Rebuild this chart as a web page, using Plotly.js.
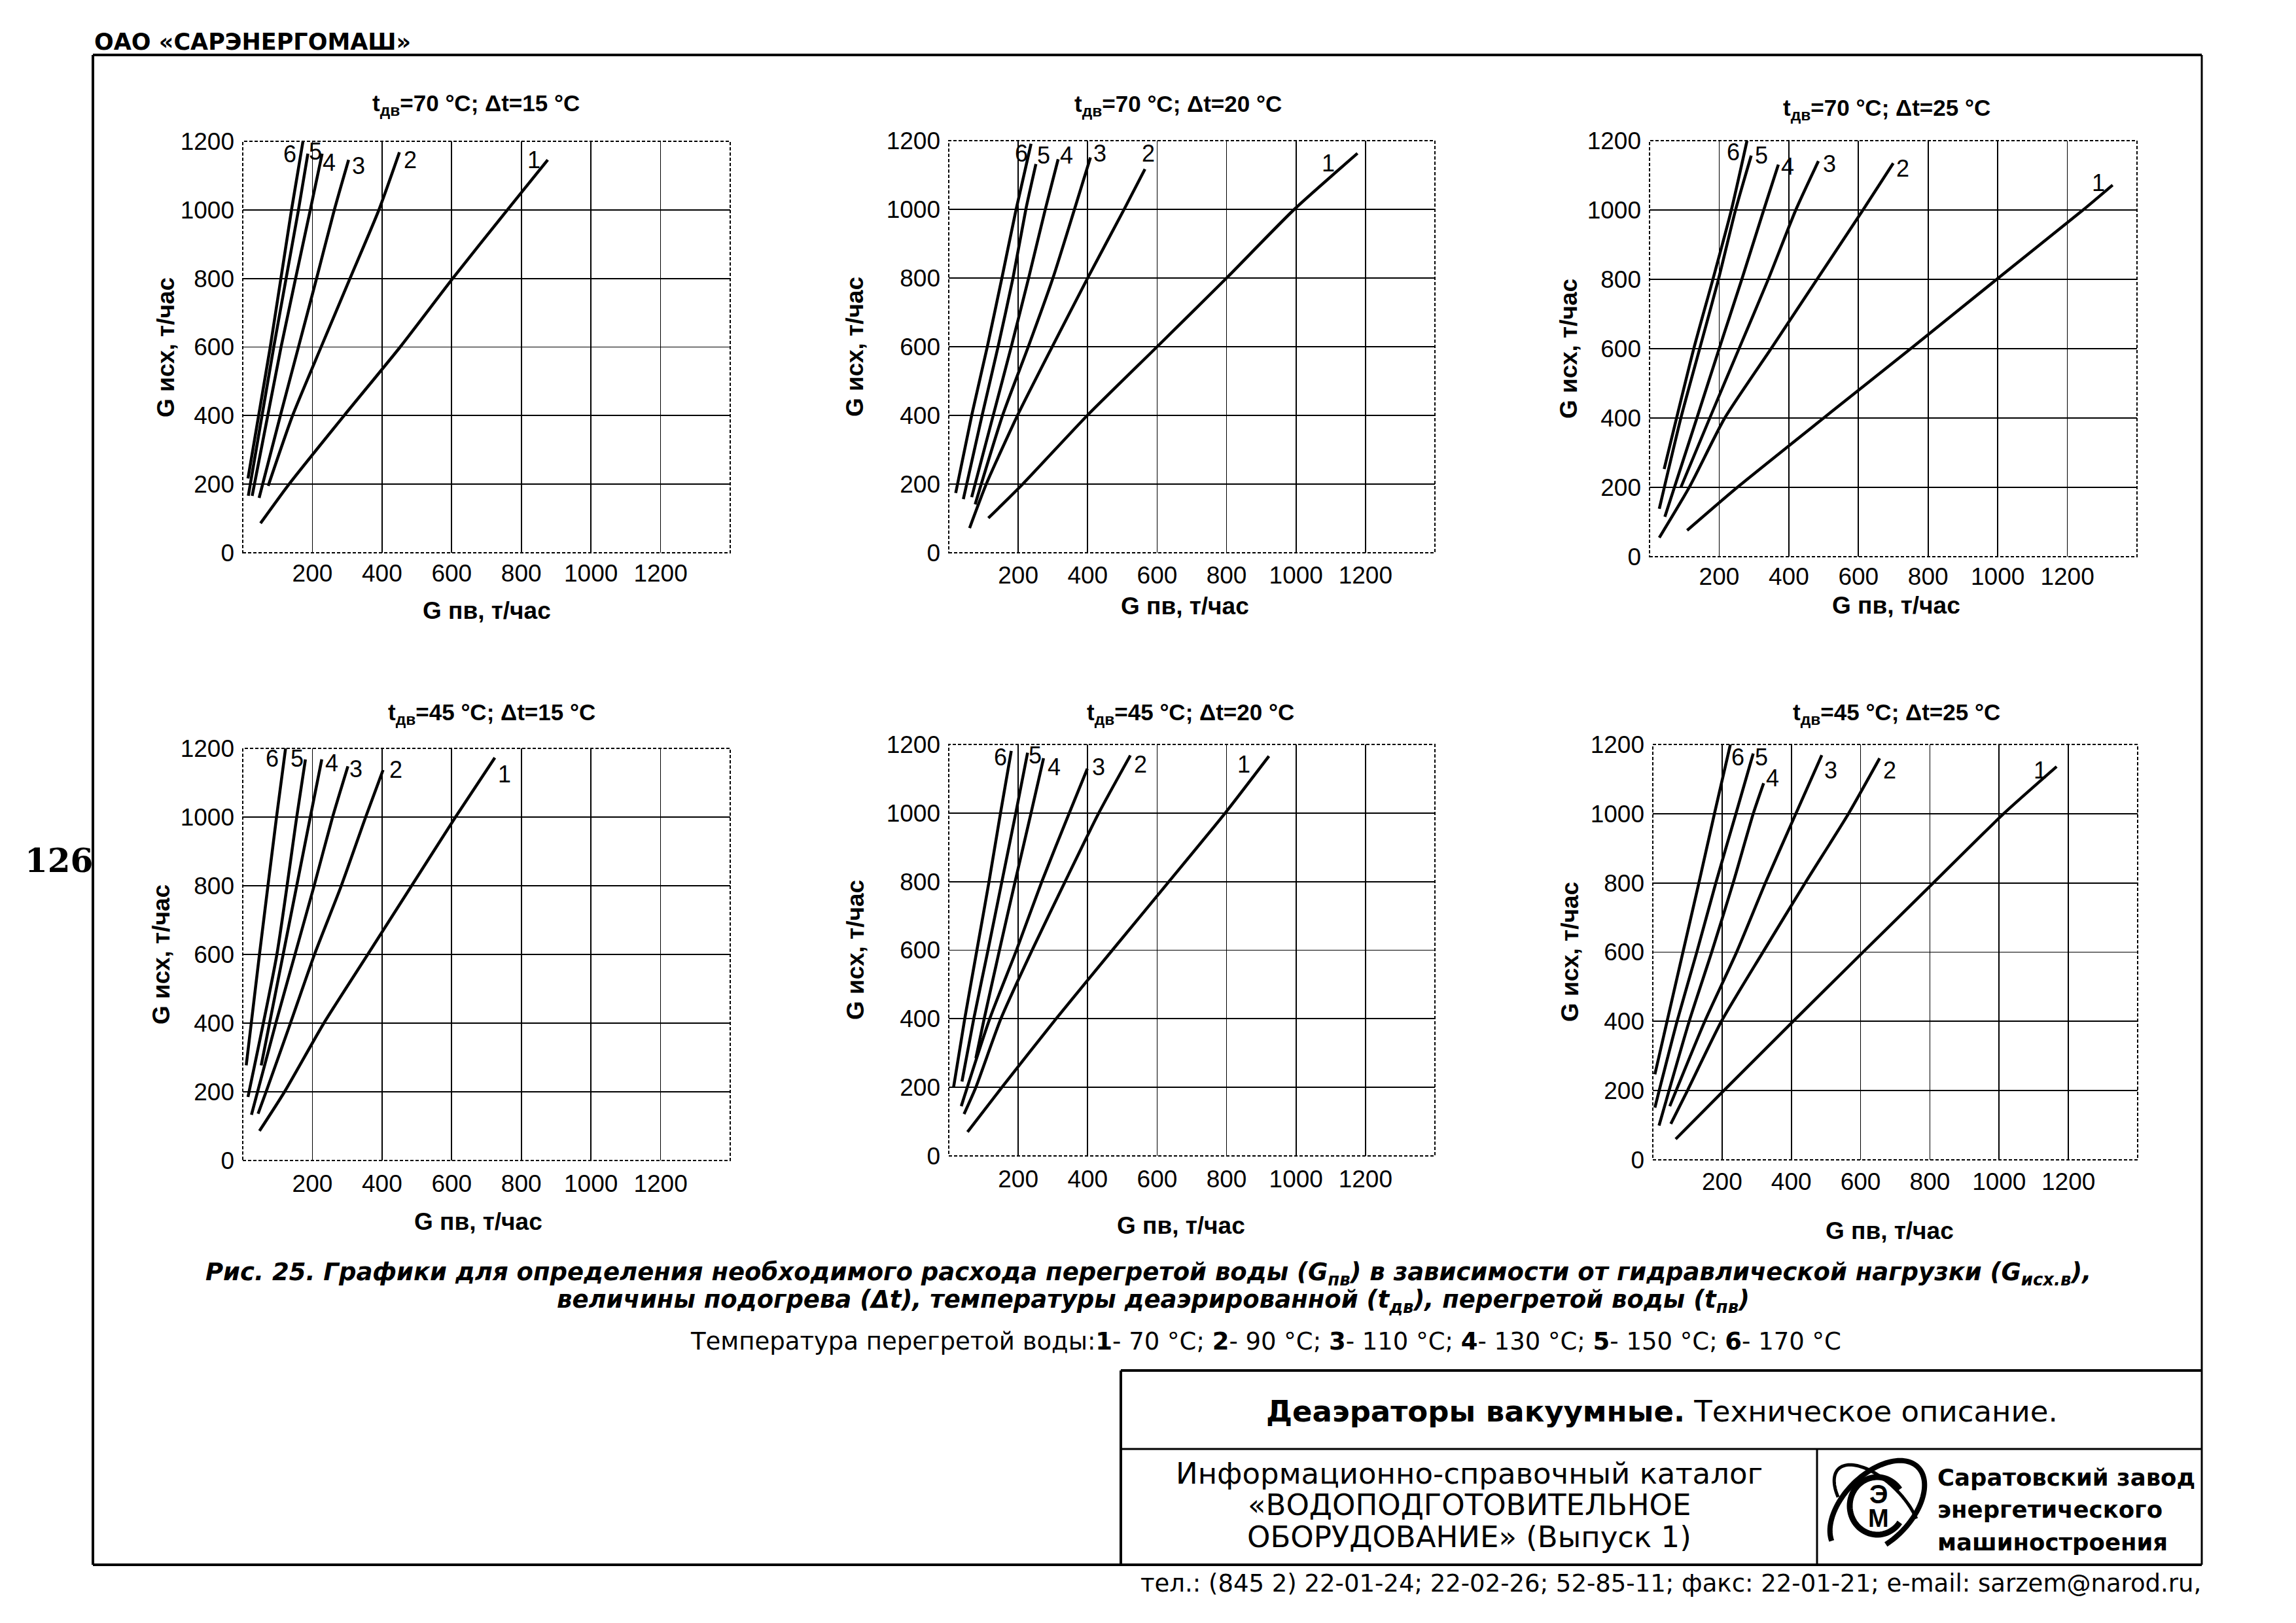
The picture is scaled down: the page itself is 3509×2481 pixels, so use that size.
<!DOCTYPE html>
<html><head><meta charset="utf-8">
<script src="https://cdn.plot.ly/plotly-3.0.1.min.js"></script>
<style>html,body{margin:0;padding:0;background:#fff;} #chart{width:3509px;height:2481px;}</style>
</head><body><div id="chart"></div>
<script>
// ---------------- DATA ----------------
const xTickVals = [200, 400, 600, 800, 1000, 1200];
const yTickVals = [0, 200, 400, 600, 800, 1000, 1200];
const curveNames = ['1', '2', '3', '4', '5', '6'];
const panelTitles = [
  't<sub>дв</sub>=70 °C; Δt=15 °C', 't<sub>дв</sub>=70 °C; Δt=20 °C', 't<sub>дв</sub>=70 °C; Δt=25 °C',
  't<sub>дв</sub>=45 °C; Δt=15 °C', 't<sub>дв</sub>=45 °C; Δt=20 °C', 't<sub>дв</sub>=45 °C; Δt=25 °C'
];
const xAxisTitle = 'G пв, т/час';
const yAxisTitle = 'G исх, т/час';

// Panel 1: tдв=70, Δt=15
const p1x1 = [51, 133, 291, 452, 603, 760, 876],  p1y1 = [86, 200, 400, 600, 800, 1000, 1146];
const p1x2 = [73, 143, 225, 308, 391, 450],       p1y2 = [195, 400, 600, 800, 1000, 1168];
const p1x3 = [47, 108, 160, 212, 263, 304],       p1y3 = [160, 400, 600, 800, 1000, 1146];
const p1x4 = [27, 110, 194, 228],                 p1y4 = [166, 600, 1000, 1164];
const p1x5 = [16, 89, 160, 187],                  p1y5 = [166, 600, 1000, 1164];
const p1x6 = [15, 79, 140, 173],                  p1y6 = [217, 600, 1000, 1200];
// Panel 2: tдв=70, Δt=20
const p2x1 = [114, 213, 399, 600, 800, 995, 1177], p2y1 = [101, 200, 400, 600, 800, 1000, 1163];
const p2x2 = [60, 108, 198, 298, 400, 505, 565],   p2y2 = [72, 200, 400, 600, 800, 1000, 1117];
const p2x3 = [76, 155, 229, 300, 362, 408],        p2y3 = [141, 400, 600, 800, 1000, 1151];
const p2x4 = [66, 128, 180, 230, 278, 315],        p2y4 = [162, 400, 600, 800, 1000, 1146];
const p2x5 = [42, 96, 142, 185, 222, 251],         p2y5 = [156, 400, 600, 800, 1000, 1132];
const p2x6 = [20, 66, 111, 153, 194, 237],         p2y6 = [174, 400, 600, 800, 1000, 1191];
// Panel 3: tдв=70, Δt=25
const p3x1 = [108, 252, 500, 750, 997, 1245, 1330], p3y1 = [76, 200, 400, 600, 800, 1000, 1072];
const p3x2 = [28, 114, 216, 349, 481, 613, 700],    p3y2 = [55, 200, 400, 600, 800, 1000, 1135];
const p3x3 = [90, 173, 257, 341, 420, 485],         p3y3 = [200, 400, 600, 800, 1000, 1141];
const p3x4 = [44, 136, 200, 265, 328, 370],         p3y4 = [115, 400, 600, 800, 1000, 1131];
const p3x5 = [28, 90, 144, 198, 247, 292],          p3y5 = [138, 400, 600, 800, 1000, 1157];
const p3x6 = [42, 127, 182, 235, 280],              p3y6 = [253, 600, 800, 1000, 1200];
// Panel 4: tдв=45, Δt=15
const p4x1 = [48, 120, 233, 359, 485, 611, 724],   p4y1 = [86, 200, 400, 600, 800, 1000, 1173];
const p4x2 = [44, 67, 137, 206, 283, 353, 403],    p4y2 = [136, 200, 400, 600, 800, 1000, 1137];
const p4x3 = [25, 95, 150, 205, 258, 302],         p4y3 = [133, 400, 600, 800, 1000, 1148];
const p4x4 = [53, 77, 116, 155, 194, 227],         p4y4 = [277, 400, 600, 800, 1000, 1168];
const p4x5 = [15, 98, 155, 180],                   p4y5 = [185, 600, 1000, 1168];
const p4x6 = [10, 48, 97, 123],                    p4y6 = [277, 600, 1000, 1200];
// Panel 5: tдв=45, Δt=20
const p5x1 = [54, 153, 309, 471, 634, 796, 922],   p5y1 = [70, 200, 400, 600, 800, 1000, 1166];
const p5x2 = [44, 78, 150, 240, 335, 432, 523],    p5y2 = [122, 200, 400, 600, 800, 1000, 1168];
const p5x3 = [36, 118, 195, 268, 347, 399],        p5y3 = [145, 400, 600, 800, 1000, 1129];
const p5x4 = [78, 102, 146, 191, 237, 273],        p5y4 = [285, 400, 600, 800, 1000, 1160];
const p5x5 = [38, 72, 113, 153, 193, 227],         p5y5 = [217, 400, 600, 800, 1000, 1176];
const p5x6 = [14, 46, 81, 116, 149, 180],          p5y6 = [201, 400, 600, 800, 1000, 1181];
// Panel 6: tдв=45, Δt=25
const p6x1 = [66, 205, 405, 607, 810, 1013, 1166], p6y1 = [60, 200, 400, 600, 800, 1000, 1136];
const p6x2 = [52, 100, 198, 318, 440, 565, 655],   p6y2 = [104, 200, 400, 600, 800, 1000, 1160];
const p6x3 = [49, 150, 242, 325, 413, 488],        p6y3 = [155, 400, 600, 800, 1000, 1169];
const p6x4 = [18, 105, 170, 232, 290, 320],        p6y4 = [99, 400, 600, 800, 1000, 1088];
const p6x5 = [6, 70, 127, 182, 240, 290],          p6y5 = [151, 400, 600, 800, 1000, 1174];
const p6x6 = [6, 87, 133, 178, 224],               p6y6 = [247, 600, 800, 1000, 1200];

// ---------------- LAYOUT / DRAWING ----------------
const W = 3509, H = 2481;
const PX = v => v / W, PY = v => 1 - v / H;
const FONT = 'Liberation Sans, Arial, sans-serif';
const VFONT = 'DejaVu Sans, Verdana, sans-serif';

const panels = [
  {c: [[p1x1,p1y1],[p1x2,p1y2],[p1x3,p1y3],[p1x4,p1y4],[p1x5,p1y5],[p1x6,p1y6]],
   dom: {x:[371,1116], y:[216,845]}, title:[727,160], xt:[744,933], yt:[254,531], xs:6,
   lab: [[836,1146],[481,1146],[332,1129],[248,1138],[209,1171],[135,1163]]},
  {c: [[p2x1,p2y1],[p2x2,p2y2],[p2x3,p2y3],[p2x4,p2y4],[p2x5,p2y5],[p2x6,p2y6]],
   dom: {x:[1450,2193], y:[215,845]}, title:[1800,161], xt:[1811,926], yt:[1306,530], xs:9,
   lab: [[1093,1135],[574,1163],[435,1163],[339,1158],[273,1158],[210,1163]]},
  {c: [[p3x1,p3y1],[p3x2,p3y2],[p3x3,p3y3],[p3x4,p3y4],[p3x5,p3y5],[p3x6,p3y6]],
   dom: {x:[2521,3266], y:[215,851]}, title:[2883,167], xt:[2898,925], yt:[2397,533], xs:5,
   lab: [[1289,1079],[728,1120],[517,1133],[397,1126],[322,1157],[241,1167]]},
  {c: [[p4x1,p4y1],[p4x2,p4y2],[p4x3,p4y3],[p4x4,p4y4],[p4x5,p4y5],[p4x6,p4y6]],
   dom: {x:[371,1116], y:[1144,1774]}, title:[751,1091], xt:[731,1867], yt:[247,1459], xs:10,
   lab: [[752,1125],[440,1138],[325,1140],[255,1158],[156,1170],[85,1170]]},
  {c: [[p5x1,p5y1],[p5x2,p5y2],[p5x3,p5y3],[p5x4,p5y4],[p5x5,p5y5],[p5x6,p5y6]],
   dom: {x:[1450,2193], y:[1138,1767]}, title:[1819,1091], xt:[1805,1873], yt:[1307,1452], xs:10,
   lab: [[850,1142],[552,1142],[432,1135],[303,1135],[249,1168],[149,1163]]},
  {c: [[p6x1,p6y1],[p6x2,p6y2],[p6x3,p6y3],[p6x4,p6y4],[p6x5,p6y5],[p6x6,p6y6]],
   dom: {x:[2526,3267], y:[1138,1773]}, title:[2898,1091], xt:[2888,1881], yt:[2399,1455], xs:8,
   lab: [[1118,1125],[684,1125],[513,1125],[345,1102],[314,1164],[245,1164]]}
];

const traces = [];
const layout = {
  width: W, height: H, margin: {l:0, r:0, t:0, b:0},
  paper_bgcolor: '#fff', plot_bgcolor: 'rgba(0,0,0,0)',
  showlegend: false, font: {family: FONT, color: '#000'},
  annotations: [], shapes: []
};

panels.forEach((p, i) => {
  const s = i === 0 ? '' : String(i + 1);
  const xa = 'x' + s, ya = 'y' + s;
  p.c.forEach((cv, j) => {
    traces.push({x: cv[0], y: cv[1], xaxis: xa, yaxis: ya, type: 'scatter', mode: 'lines',
      name: curveNames[j], line: {color: '#000', width: 4.5, shape: 'spline', smoothing: 0.6}, hoverinfo: 'skip'});
  });
  layout['xaxis' + s] = {
    domain: [PX(p.dom.x[0]), PX(p.dom.x[1])], range: [0, 1400], anchor: ya,
    tickvals: xTickVals, ticktext: xTickVals.map(String), ticks: '',
    showgrid: true, gridcolor: '#000', gridwidth: 1.8, zeroline: false, showline: false,
    tickfont: {family: FONT, size: 37, color: '#000'}, ticklabelstandoff: p.xs, fixedrange: true
  };
  layout['yaxis' + s] = {
    domain: [PY(p.dom.y[1]), PY(p.dom.y[0])], range: [0, 1200], anchor: xa,
    tickvals: yTickVals, ticktext: yTickVals.map(String), ticks: '',
    showgrid: true, gridcolor: '#000', gridwidth: 1.8, zeroline: false, showline: false,
    tickfont: {family: FONT, size: 37, color: '#000'}, ticklabelstandoff: 12, fixedrange: true
  };
  layout.shapes.push({type: 'rect', xref: xa + ' domain', yref: ya + ' domain', x0: 0, x1: 1, y0: 0, y1: 1,
    line: {color: '#000', width: 2, dash: '5px,3px'}});
  p.lab.forEach((l, j) => {
    layout.annotations.push({xref: xa, yref: ya, x: l[0], y: l[1], text: curveNames[j], showarrow: false,
      font: {family: FONT, size: 36, color: '#000'}, xanchor: 'center', yanchor: 'middle'});
  });
  layout.annotations.push({xref: 'paper', yref: 'paper', x: PX(p.title[0]), y: PY(p.title[1]),
    text: '<b>' + panelTitles[i] + '</b>', showarrow: false, xanchor: 'center', yanchor: 'middle',
    font: {family: FONT, size: 35, color: '#000'}});
  layout.annotations.push({xref: 'paper', yref: 'paper', x: PX(p.xt[0]), y: PY(p.xt[1]),
    text: '<b>' + xAxisTitle + '</b>', showarrow: false, xanchor: 'center', yanchor: 'middle',
    font: {family: FONT, size: 37, color: '#000'}});
  layout.annotations.push({xref: 'paper', yref: 'paper', x: PX(p.yt[0]), y: PY(p.yt[1]),
    text: '<b>' + yAxisTitle + '</b>', showarrow: false, xanchor: 'center', yanchor: 'middle', textangle: -90,
    font: {family: FONT, size: 37, color: '#000'}});
});

// ---- page decorations ----
const line = (x0, y0, x1, y1, w) => ({type: 'line', xref: 'paper', yref: 'paper',
  x0: PX(x0), y0: PY(y0), x1: PX(x1), y1: PY(y1), line: {color: '#000', width: w}});
layout.shapes.push(
  line(142, 84, 3365, 84, 4), line(142, 84, 142, 2392, 4), line(3365, 84, 3365, 2392, 3),
  line(142, 2392, 3365, 2392, 4),
  line(1713, 2095, 3365, 2095, 4), line(1713, 2095, 1713, 2392, 4),
  line(1713, 2215, 3365, 2215, 3), line(2777, 2215, 2777, 2392, 3)
);

function arc(cx, cy, rx, ry, rot, a0, a1, n) {
  const r = rot * Math.PI / 180; let d = '';
  for (let k = 0; k <= n; k++) {
    const a = (a0 + (a1 - a0) * k / n) * Math.PI / 180;
    const ex = rx * Math.cos(a), ey = ry * Math.sin(a);
    const x = cx + ex * Math.cos(r) - ey * Math.sin(r);
    const y = cy + ex * Math.sin(r) + ey * Math.cos(r);
    d += (k === 0 ? 'M ' : ' L ') + PX(x).toFixed(6) + ',' + PY(y).toFixed(6);
  }
  return d;
}
const pathShape = (d, w) => ({type: 'path', xref: 'paper', yref: 'paper', path: d, line: {color: '#000', width: w}});
layout.shapes.push(
  pathShape(arc(2869, 2305, 88, 52, -45, 195, 470, 90), 8),
  pathShape(arc(2869, 2305, 84, 40, 45, 130, 310, 60), 5),
  pathShape(arc(2869, 2302, 42, 44, 0, 35, 325, 60), 9)
);

const ann = (x, y, text, size, opts) => Object.assign({xref: 'paper', yref: 'paper', x: PX(x), y: PY(y),
  text: text, showarrow: false, xanchor: 'center', yanchor: 'middle',
  font: {family: VFONT, size: size, color: '#000'}}, opts || {});

layout.annotations.push(
  ann(142, 64, '<b>ОАО «САРЭНЕРГОМАШ»</b>', 35, {xanchor: 'left'}),
  ann(90, 1315, '<b>126</b>', 50, {font: {family: 'DejaVu Serif, serif', size: 50, color: '#000'}}),
  ann(1755, 1947, '<b><i>Рис. 25. Графики для определения необходимого расхода перегретой воды (G<sub>пв</sub>) в зависимости от гидравлической нагрузки (G<sub>исх.в</sub>),</i></b>', 37),
  ann(1762, 1989, '<b><i>величины подогрева (Δt), температуры деаэрированной (t<sub>дв</sub>), перегретой воды (t<sub>пв</sub>)</i></b>', 37),
  ann(1934, 2050, 'Температура перегретой воды:<b>1</b>- 70 °С; <b>2</b>- 90 °С; <b>3</b>- 110 °С; <b>4</b>- 130 °С; <b>5</b>- 150 °С; <b>6</b>- 170 °С', 37),
  ann(2540, 2157, '<b>Деаэраторы вакуумные.</b> Техническое описание.', 45),
  ann(2245, 2252, 'Информационно-справочный каталог', 45),
  ann(2245, 2300, '«ВОДОПОДГОТОВИТЕЛЬНОЕ', 45),
  ann(2245, 2349, 'ОБОРУДОВАНИЕ» (Выпуск 1)', 45),
  ann(2959, 2258, '<b>Саратовский завод</b>', 35.5, {xanchor: 'left'}),
  ann(2959, 2307, '<b>энергетического</b>', 35.5, {xanchor: 'left'}),
  ann(2959, 2357, '<b>машиностроения</b>', 35.5, {xanchor: 'left'}),
  ann(2871, 2284, '<b>Э</b>', 40, {font: {family: FONT, size: 40, color: '#000'}}),
  ann(2871, 2321, '<b>М</b>', 38, {font: {family: FONT, size: 38, color: '#000'}}),
  ann(3366, 2420, 'тел.: (845 2) 22-01-24; 22-02-26; 52-85-11; факс: 22-01-21; e-mail: sarzem@narod.ru,', 37, {xanchor: 'right'})
);

Plotly.newPlot('chart', traces, layout, {staticPlot: true, displayModeBar: false});
</script></body></html>
